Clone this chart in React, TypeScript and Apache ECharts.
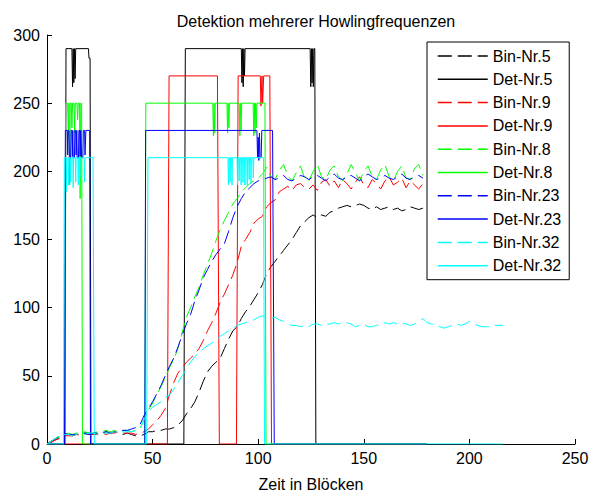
import React, { useEffect, useRef } from "react";
import * as echarts from "echarts";

// Bin magnitudes, sampled every 2 blocks starting at block 0
const binStep = 2;
const binNr5 = [
  0, 2, 3, 5, 6, 7, 6, 7, 7, 8, 8, 7, 8, 8, 9, 8, 9, 8, 7, 8, 7, 6, 6,
  7, 9, 9, 10, 10, 11, 11, 12, 14, 17, 22, 26, 31, 38, 46, 53, 57, 60, 63, 70, 77, 83,
  86, 92, 97, 101, 106, 111, 117, 125, 130, 134, 138, 142, 146, 150, 155, 160, 163, 166, 168,
  166, 168, 167, 170, 171, 173, 174, 175, 174, 175, 176, 175, 173, 172, 174, 172, 173, 174,
  172, 173, 171, 172, 174, 173, 172, 173,
];
const binNr9 = [
  0, 1, 3, 4, 6, 6, 6, 7, 6, 7, 7, 7, 7, 8, 7, 8, 8, 9, 8, 8, 8, 7, 8,
  9, 11, 14, 17, 21, 26, 36, 45, 52, 56, 60, 63, 66, 70, 76, 83, 89, 96, 104, 110, 117, 124,
  133, 145, 150, 155, 162, 165, 167, 174, 177, 179, 185, 187, 189, 186, 190, 191, 188, 187, 190,
  186, 192, 194, 189, 193, 188, 194, 191, 187, 192, 196, 190, 188, 194, 191, 187, 193, 196,
  190, 192, 195, 188, 193, 190, 187, 191,
];
const binNr8 = [
  0, 2, 4, 5, 7, 8, 7, 8, 8, 9, 8, 8, 9, 9, 10, 9, 10, 9, 10, 10, 9, 10, 11,
  18, 25, 30, 36, 42, 49, 56, 62, 70, 82, 93, 100, 108, 115, 124, 132, 140, 149, 157, 164, 170, 176,
  180, 185, 188, 191, 193, 195, 198, 203, 196, 194, 201, 205, 197, 193, 199, 204, 195, 193, 200,
  205, 196, 194, 201, 204, 196, 193, 198, 205, 199, 193, 200, 204, 196, 194, 201, 205, 196,
  193, 200, 204, 195, 194, 202, 205, 197,
];
const binNr23 = [
  0, 2, 4, 6, 8, 7, 7, 7, 8, 8, 7, 8, 8, 8, 9, 8, 9, 9, 10, 10, 11, 12, 14,
  21, 26, 31, 37, 43, 50, 57, 63, 71, 80, 88, 95, 105, 113, 122, 128, 134, 139, 143, 147, 156, 166,
  174, 180, 185, 188, 191, 193, 194, 195, 196, 194, 195, 197, 194, 193, 195, 197, 196, 194, 196,
  197, 195, 193, 196, 198, 195, 194, 196, 197, 195, 193, 196, 198, 196, 194, 195, 197, 195,
  194, 196, 198, 195, 194, 196, 197, 195,
];
const binNr32 = [
  0, 2, 4, 6, 7, 7, 6, 7, 8, 7, 8, 8, 7, 8, 8, 8, 9, 8, 9, 9, 9, 10, 11,
  18, 24, 27, 29, 31, 34, 36, 40, 45, 50, 55, 60, 64, 67, 70, 72, 74, 76, 79, 81, 83, 85,
  87, 88, 89, 90, 91, 93, 94, 93, 92, 93, 91, 90, 88, 87, 87, 86, 87, 86, 88,
  88, 87, 88, 88, 89, 88, 89, 89, 88, 86, 87, 88, 86, 86, 87, 88, 89, 88,
  89, 88, 89, 88, 87, 88, 90, 92, 89, 88, 87, 86, 85, 86, 87, 88, 87, 88, 90,
  88, 87, 86, 86, 86, 87, 87, 87,
];

// Detection flags as [block, level] breakpoints
const detNr5 = [
  [0, 0], [8.5, 0], [9, 290], [11.8, 290], [12.1, 262], [12.4, 290], [12.7, 265], [13.0, 290],
  [13.3, 268], [13.6, 290], [19.6, 290], [19.9, 283], [20.4, 283], [20.8, 0], [64.8, 0],
  [65.5, 290], [92, 290], [92.3, 265], [92.6, 290], [92.9, 262], [93.2, 290], [93.5, 270],
  [93.8, 290], [124.6, 290], [124.9, 262], [125.2, 290], [125.5, 265], [125.8, 290],
  [126.1, 262], [126.4, 290], [126.8, 290], [127.3, 0], [180, 0],
];
const detNr9 = [
  [0, 0], [57, 0], [57.8, 270], [80.7, 270], [81.6, 0], [89.7, 0], [90.5, 270], [101, 270],
  [101.3, 248], [101.8, 270], [102.1, 250], [102.6, 270], [105.5, 270], [106.3, 0], [180, 0],
];
const detNr8 = [
  [0, 0], [8.4, 0], [8.8, 250], [9.8, 250], [10.1, 225], [10.4, 250], [10.7, 190], [11.0, 250],
  [11.5, 250], [11.8, 232], [12.1, 250], [12.8, 250], [13.1, 228], [13.4, 250], [14.2, 250],
  [14.5, 238], [14.8, 250], [15.4, 250], [15.7, 180], [16.0, 250], [16.4, 250], [16.8, 0],
  [46.3, 0], [46.8, 250], [78.5, 250], [78.8, 226], [79.1, 250], [79.4, 228], [79.7, 250],
  [85.2, 250], [85.5, 228], [85.8, 250], [86.1, 232], [86.4, 250], [91, 250], [91.3, 226],
  [91.6, 250], [91.9, 230], [92.2, 250], [97.6, 250], [97.9, 226], [98.2, 250], [98.5, 228],
  [98.8, 250], [99.1, 232], [99.4, 250], [103.2, 250], [103.7, 0], [180, 0],
];
const detNr23 = [
  [0, 0], [8.3, 0], [8.7, 230], [9.6, 230], [9.8, 212], [10.0, 230], [10.4, 230], [10.6, 210],
  [11.2, 210], [11.4, 230], [11.8, 230], [12.0, 211], [12.2, 230], [12.4, 210], [13.0, 210],
  [13.2, 230], [13.6, 230], [13.8, 212], [14.1, 230], [14.3, 210], [14.9, 210], [15.1, 230],
  [15.5, 230], [15.7, 211], [16.0, 230], [16.4, 210], [17.0, 210], [17.2, 230], [17.8, 230],
  [18.0, 212], [18.4, 230], [20.2, 230], [20.6, 0], [46.3, 0], [46.7, 230], [99.4, 230],
  [99.7, 210], [100.0, 225], [100.3, 208], [100.6, 228], [100.9, 210], [101.4, 210],
  [101.7, 230], [106.8, 230], [107.6, 0], [180, 0],
];
const detNr32 = [
  [0, 0], [7.8, 0], [8.2, 210], [9, 210], [9.2, 185], [9.4, 210], [10, 210], [10.2, 190],
  [10.4, 210], [11, 210], [11.2, 192], [11.4, 210], [12.2, 210], [12.4, 188], [12.6, 210],
  [13.4, 210], [13.6, 192], [13.8, 210], [14.6, 210], [14.8, 190], [15, 210], [16, 210],
  [16.2, 195], [16.4, 210], [17.6, 210], [17.8, 192], [18, 210], [21.8, 210], [22.4, 0],
  [47.2, 0], [47.8, 210], [85.7, 210], [85.9, 190], [86.1, 210], [86.5, 210], [86.7, 192],
  [86.9, 210], [87.4, 210], [87.6, 190], [87.8, 210], [90, 210], [90.2, 190], [90.4, 210],
  [90.8, 210], [91, 193], [91.2, 210], [91.7, 210], [91.9, 190], [92.1, 210], [92.6, 210],
  [92.8, 192], [93, 210], [93.5, 210], [93.7, 190], [93.9, 210], [94.6, 210], [94.8, 190],
  [95, 210], [95.5, 210], [95.7, 194], [95.9, 210], [96.4, 210], [96.6, 191], [96.8, 210],
  [97.5, 210], [97.7, 195], [97.9, 210], [102.5, 210], [103, 0], [216, 0],
];

const xTicks = { min: 0, max: 250, interval: 50 };
const yTicks = { min: 0, max: 300, interval: 50 };

const FONT = "'Liberation Sans', Arial, sans-serif";

const toPoints = (vals: number[]) => vals.map((v, i) => [i * binStep, v]);

const lineSeries = (
  name: string,
  data: number[][],
  color: string,
  dashed: boolean
) => ({
  name,
  type: "line",
  data,
  symbol: "none",
  showSymbol: false,
  clip: true,
  lineStyle: {
    color,
    width: 1,
    type: dashed ? [14, 6] : "solid",
  },
  itemStyle: { color },
  emphasis: { disabled: true },
});

export default function App() {
  const ref = useRef<HTMLDivElement>(null);

  useEffect(() => {
    if (!ref.current) return;
    const chart = echarts.init(ref.current, undefined, { renderer: "svg" });
    const axisText = { color: "#000", fontSize: 16, fontFamily: FONT };
    chart.setOption({
      animation: false,
      backgroundColor: "#ffffff",
      title: {
        text: "Detektion mehrerer Howlingfrequenzen",
        left: 311,
        textAlign: "center",
        top: 8,
        textStyle: { color: "#000", fontSize: 16, fontWeight: "normal", fontFamily: FONT },
      },
      grid: { left: 47, right: 21, top: 35, bottom: 44, containLabel: false },
      legend: {
        orient: "vertical",
        left: 427,
        top: 42,
        padding: [6, 8, 6, 10],
        itemWidth: 50,
        itemHeight: 14,
        itemGap: 7.3,
        borderColor: "#000",
        borderWidth: 1,
        borderRadius: 0,
        backgroundColor: "#ffffff",
        selectedMode: false,
        itemStyle: { opacity: 0 },
        lineStyle: { width: 1.5 },
        textStyle: { color: "#000", fontSize: 16, fontFamily: FONT, padding: [0, 0, 0, 0] },
        z: 10,
      },
      xAxis: {
        type: "value",
        ...xTicks,
        name: "Zeit in Blöcken",
        nameLocation: "middle",
        nameGap: 32,
        nameTextStyle: axisText,
        axisLine: { show: true, lineStyle: { color: "#000", width: 1 } },
        axisTick: { show: true, inside: true, length: 5, lineStyle: { color: "#000" } },
        axisLabel: { ...axisText, margin: 6 },
        splitLine: { show: false },
      },
      yAxis: {
        type: "value",
        ...yTicks,
        axisLine: { show: true, lineStyle: { color: "#000", width: 1 } },
        axisTick: { show: true, inside: true, length: 5, lineStyle: { color: "#000" } },
        axisLabel: { ...axisText, margin: 7 },
        splitLine: { show: false },
      },
      series: [
        lineSeries("Bin-Nr.5", toPoints(binNr5), "#000000", true),
        lineSeries("Det-Nr.5", detNr5, "#000000", false),
        lineSeries("Bin-Nr.9", toPoints(binNr9), "#ff0000", true),
        lineSeries("Det-Nr.9", detNr9, "#ff0000", false),
        lineSeries("Bin-Nr.8", toPoints(binNr8), "#00ff00", true),
        lineSeries("Det-Nr.8", detNr8, "#00ff00", false),
        lineSeries("Bin-Nr.23", toPoints(binNr23), "#0000ff", true),
        lineSeries("Det-Nr.23", detNr23, "#0000ff", false),
        lineSeries("Bin-Nr.32", toPoints(binNr32), "#00ffff", true),
        lineSeries("Det-Nr.32", detNr32, "#00ffff", false),
      ],
    });
    return () => chart.dispose();
  }, []);

  return (
    <div
      ref={ref}
      style={{ position: "fixed", left: 0, top: 0, width: 596, height: 497, background: "#fff" }}
    />
  );
}
